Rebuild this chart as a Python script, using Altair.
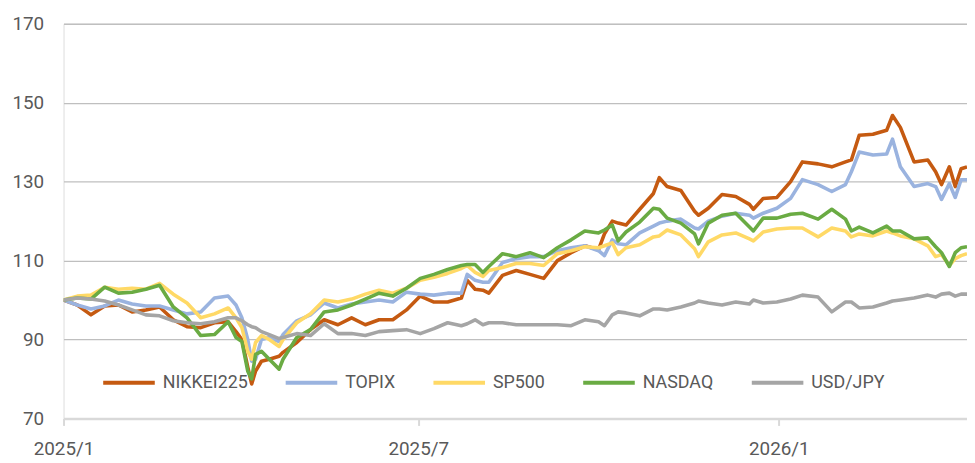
import altair as alt
import pandas as pd

dates = [
    "2025-01-01", "2025-01-08", "2025-01-15", "2025-01-22", "2025-01-29", "2025-02-05",
    "2025-02-12", "2025-02-19", "2025-02-26", "2025-03-05", "2025-03-12", "2025-03-19",
    "2025-03-26", "2025-03-30", "2025-04-02", "2025-04-05", "2025-04-07", "2025-04-09",
    "2025-04-12", "2025-04-16", "2025-04-21", "2025-04-23", "2025-04-30", "2025-05-07",
    "2025-05-14", "2025-05-21", "2025-05-28", "2025-06-04", "2025-06-11", "2025-06-18",
    "2025-06-25", "2025-07-02", "2025-07-09", "2025-07-16", "2025-07-23", "2025-07-26",
    "2025-07-30", "2025-08-03", "2025-08-06", "2025-08-13", "2025-08-20", "2025-08-27",
    "2025-09-03", "2025-09-10", "2025-09-17", "2025-09-24", "2025-10-01", "2025-10-04",
    "2025-10-08", "2025-10-11", "2025-10-15", "2025-10-22", "2025-10-29", "2025-11-01",
    "2025-11-05", "2025-11-12", "2025-11-19", "2025-11-21", "2025-11-26", "2025-12-03",
    "2025-12-10", "2025-12-17", "2025-12-19", "2025-12-24", "2025-12-31", "2026-01-07",
    "2026-01-13", "2026-01-21", "2026-01-28", "2026-02-04", "2026-02-07", "2026-02-11",
    "2026-02-18", "2026-02-25", "2026-02-28", "2026-03-04", "2026-03-11", "2026-03-18",
    "2026-03-22", "2026-03-25", "2026-03-29", "2026-04-01", "2026-04-04", "2026-04-07",
]

nikkei = [
    100, 98.75, 96.25, 98.5, 98.75, 97, 97.5, 98.25, 95, 93.25, 93, 94.25,
    94.5, 92, 90, 83, 78.75, 82, 84.5, 85, 85.75, 86.75, 89.25, 92.5,
    95, 93.75, 95.5, 93.75, 95, 95, 97.5, 101, 99.5, 99.5, 100.5, 105,
    102.75, 102.5, 101.75, 106.25, 107.5, 106.5, 105.5, 110, 112, 113.75, 112.75, 116.75,
    120, 119.5, 119, 123, 127, 131, 128.75, 127.75, 122.5, 121.5, 123.25, 126.75,
    126.25, 124.25, 123, 125.75, 126, 130, 135, 134.5, 133.75, 135, 135.5, 141.75,
    142, 143, 146.75, 143.75, 135, 135.5, 132.5, 129.25, 133.75, 128.75, 133.25, 133.75,
]

topix = [
    100, 98.75, 97.75, 98.5, 100, 99, 98.5, 98.5, 97.5, 96.5, 97, 100.5,
    101, 98.75, 95.5, 90, 84.5, 85, 90, 90.5, 89.5, 91.25, 94.75, 96.25,
    99.25, 98, 99, 99.5, 100, 99.5, 102, 101.5, 101.25, 101.75, 101.75, 106.5,
    105, 104.5, 104.5, 109.5, 110.5, 111, 111, 112.5, 113.25, 113.75, 112.5, 111.25,
    115.25, 114.25, 114, 117, 118.75, 119.5, 120, 120.5, 118.25, 118, 120, 121.25,
    122, 121.5, 120.75, 122, 123.25, 125.75, 130.5, 129.25, 127.5, 129.25, 132.5, 137.5,
    136.75, 137, 140.75, 133.75, 128.75, 129.5, 128.75, 125.5, 129.5, 126, 130.5, 130.5,
]

sp500 = [
    100, 101, 101.25, 103.25, 102.75, 103, 102.75, 104.25, 101.5, 99.25, 95.5, 96.5,
    98, 95.5, 93, 87, 85, 89.25, 91, 90, 88.25, 90, 94.25, 96.5,
    100, 99.5, 100.25, 101.5, 102.5, 101.75, 103, 105, 105.75, 106.75, 108, 108.75,
    107, 106, 107.5, 108.25, 109.25, 109.25, 108.75, 111.75, 112.5, 113.5, 113.25, 113.75,
    114.5, 111.5, 113.25, 114, 116, 116.25, 117.75, 116.5, 113, 111, 114.75, 116.5,
    117, 115.5, 115, 117.25, 118, 118.25, 118.25, 116, 118.25, 117.5, 116, 116.75,
    116.25, 117.5, 117, 116.25, 115.5, 113.75, 111, 111.5, 108.75, 110.5, 111.25, 111.75,
]

nasdaq = [
    100, 100.5, 100.25, 103.25, 101.75, 102, 102.75, 103.75, 98.25, 95.5, 91, 91.25,
    94.5, 90.5, 89.5, 82, 80, 86.25, 87, 85, 82.5, 85, 90.5, 92.5,
    97, 97.5, 98.75, 100.25, 101.75, 101, 103, 105.5, 106.5, 107.75, 108.75, 109,
    109, 107, 108.5, 111.75, 111, 112, 110.75, 113.25, 115.25, 117.5, 117, 117.75,
    119, 115, 117.25, 119.75, 123.25, 123, 120.75, 119.5, 116.75, 114.25, 119.5, 121.5,
    122, 118.5, 117.5, 120.75, 120.75, 121.75, 122, 120.5, 123, 120.5, 117.5, 118.5,
    117, 118.75, 117.5, 117.5, 115.5, 115.75, 113.5, 112, 108.5, 112, 113.25, 113.5,
]

usdjpy = [
    100, 100.5, 100.25, 99.75, 98.75, 97.5, 96.25, 96, 94.75, 94.25, 94, 94.5,
    95.5, 95.5, 94.75, 93.75, 93.25, 93, 92, 91.25, 90.25, 90.5, 91.5, 91,
    94, 91.5, 91.5, 91, 92, 92.25, 92.5, 91.5, 92.75, 94.25, 93.5, 94,
    95, 93.75, 94.25, 94.25, 93.75, 93.75, 93.75, 93.75, 93.5, 95, 94.5, 93.5,
    96.25, 97, 96.75, 96, 97.75, 97.75, 97.5, 98.25, 99.25, 99.75, 99.25, 98.75,
    99.5, 99, 100, 99.25, 99.5, 100.25, 101.25, 100.75, 97, 99.5, 99.5, 98,
    98.25, 99.25, 99.75, 100, 100.5, 101.25, 100.75, 101.5, 101.75, 101, 101.5, 101.5,
]

series_names = ["NIKKEI225", "TOPIX", "SP500", "NASDAQ", "USD/JPY"]
series_values = [nikkei, topix, sp500, nasdaq, usdjpy]
series_colors = ["#C55A11", "#9AB3DF", "#FFD966", "#6AAB43", "#A5A5A5"]

y_ticks = [70, 90, 110, 130, 150, 170]
x_ticks = [(2025, 1), (2025, 7), (2026, 1)]

rows = []
for order, (name, vals) in enumerate(zip(series_names, series_values)):
    for d, v in zip(dates, vals):
        rows.append({"date": d, "value": v, "series": name, "order": order})
df = pd.DataFrame(rows)

FONT = "Roboto"
TEXT = "#595959"

chart = (
    alt.Chart(df)
    .mark_line(strokeWidth=3.6, strokeJoin="round", clip=True)
    .encode(
        x=alt.X(
            "date:T",
            scale=alt.Scale(
                type="utc",
                domain=[
                    alt.DateTime(year=2025, month=1, date=1, utc=True),
                    alt.DateTime(year=2026, month=4, date=7, utc=True),
                ],
            ),
            axis=alt.Axis(
                title=None,
                values=[alt.DateTime(year=y, month=m, date=1, utc=True) for y, m in x_ticks],
                labelExpr="utcFormat(datum.value, '%Y/%-m')",
                labelFlush=False,
                grid=False,
                domainColor="#D9D9D9",
                domainWidth=2.5,
                tickColor="#D9D9D9",
                tickWidth=2,
                tickSize=7,
                labelPadding=14,
                labelFont=FONT,
                labelFontSize=19,
                labelColor=TEXT,
            ),
        ),
        y=alt.Y(
            "value:Q",
            scale=alt.Scale(domain=[70, 170], nice=False, zero=False),
            axis=alt.Axis(
                title=None,
                values=y_ticks,
                domain=False,
                ticks=False,
                gridColor="#BFBFBF",
                gridWidth=1.3,
                labelPadding=20,
                labelFont=FONT,
                labelFontSize=19,
                labelColor=TEXT,
            ),
        ),
        color=alt.Color(
            "series:N",
            sort=series_names,
            scale=alt.Scale(domain=series_names, range=series_colors),
            legend=alt.Legend(
                title=None,
                orient="none",
                legendX=38,
                legendY=334,
                direction="horizontal",
                symbolType="stroke",
                symbolSize=2704,
                symbolStrokeWidth=4,
                labelFont=FONT,
                labelFontSize=18,
                labelColor=TEXT,
                labelOffset=6,
                columnPadding=30,
                padding=0,
            ),
        ),
        order=alt.Order("order:Q"),
        detail="series:N",
    )
    .properties(
        width=911,
        height=398,
        autosize=alt.AutoSizeParams(type="none"),
        padding={"left": 56, "top": 14, "right": 0, "bottom": 41},
    )
    .configure_view(stroke=None)
    .configure(background="white")
)

chart.save("out.html", embed_options={"renderer": "svg", "actions": False})
